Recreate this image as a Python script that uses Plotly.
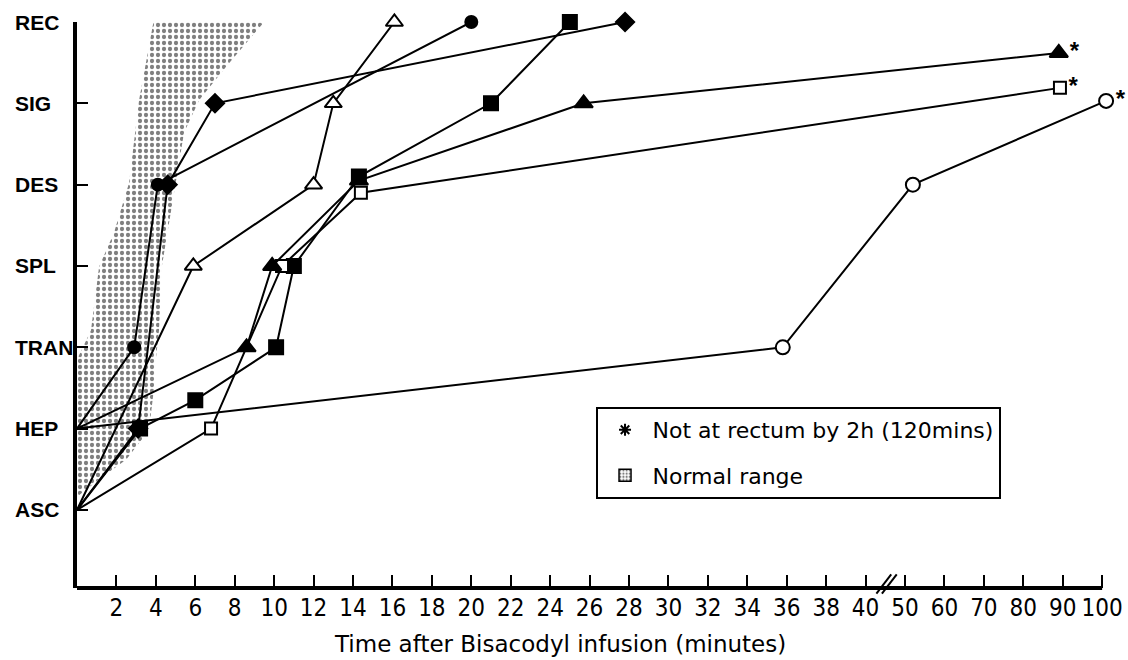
import plotly.graph_objects as go

# ---------------- data ----------------
levels = ["ASC", "HEP", "TRAN", "SPL", "DES", "SIG", "REC"]
x_tick_minutes = [2, 4, 6, 8, 10, 12, 14, 16, 18, 20, 22, 24, 26, 28, 30, 32, 34, 36, 38, 40,
                  50, 60, 70, 80, 90, 100]

# each subject: time (minutes) and colonic level (0=ASC ... 6=REC)
tri_open_t = [0, 5.9, 12.0, 13.0, 16.1]
tri_open_y = [0, 3, 4, 5, 6]

circ_fill_t = [0, 2.9, 4.1, 20.0]
circ_fill_y = [1, 2, 4, 6]

diam_t = [0, 3.1, 4.6, 7.0, 27.8]
diam_y = [0, 1, 4, 5, 6]

sq_fill_t = [0, 3.2, 6.0, 10.1, 11.0, 14.3, 21.0, 25.0]
sq_fill_y = [0, 1, 1.35, 2, 3, 4.1, 5, 6]

tri_fill_t = [0, 8.6, 9.9, 14.3, 25.7, 89.0]
tri_fill_y = [1, 2, 3, 4.05, 5, 5.62]

sq_open_t = [0, 6.8, 10.4, 14.4, 89.3]
sq_open_y = [0, 1, 3, 3.9, 5.19]

circ_open_t = [0, 35.8, 52.0, 101.0]
circ_open_y = [1, 2, 4, 5.03]

# normal range envelope
band_left_t = [3.9, 3.15, 2.64, 1.88, 1.12, 0.71, 0.36, 0.0, 0.0]
band_left_y = [6.03, 5.04, 4.02, 3.41, 2.99, 2.21, 2.03, 1.85, 0.18]
band_right_t = [0.1, 1.1, 2.5, 3.65, 3.9, 4.0, 4.16, 4.3, 5.0, 5.43, 6.2, 7.56, 9.6]
band_right_y = [0.18, 0.37, 0.62, 0.98, 1.48, 1.85, 2.21, 2.99, 4.02, 4.64, 5.04, 5.45, 6.03]


# broken time axis: 0-40 min at 1 unit/min, 50-100 min at 1 unit / 5 min
def u(t):
    return t if t <= 40 else 42 + (t - 50) / 5.0


def U(ts):
    return [u(t) for t in ts]


FONT_NUM = "Liberation Sans Narrow, DejaVu Sans Condensed, Liberation Sans, Arial Narrow, sans-serif"
FONT_TXT = "DejaVu Sans, Verdana, sans-serif"
FONT_LAB = "Liberation Sans, Arial, sans-serif"

fig = go.Figure()

# normal range band
fig.add_trace(go.Scatter(
    x=U(band_left_t + band_right_t), y=band_left_y + band_right_y,
    mode="lines", fill="toself", line=dict(width=0, color="black"),
    fillcolor="rgba(0,0,0,0)",
    fillpattern=dict(shape=".", fgcolor="black", bgcolor="white", size=6, solidity=0.4),
    showlegend=False, hoverinfo="skip",
))

series = [
    (tri_open_t, tri_open_y, "triangle-up", "white", 15, False),
    (circ_fill_t, circ_fill_y, "circle", "black", 12, False),
    (diam_t, diam_y, "diamond", "black", 14, False),
    (sq_fill_t, sq_fill_y, "square", "black", 14, False),
    (sq_open_t, sq_open_y, "square", "white", 12, True),
    (tri_fill_t, tri_fill_y, "triangle-up", "black", 16, True),
    (circ_open_t, circ_open_y, "circle", "white", 14, True),
]

for t, y, sym, fillc, size, star in series:
    n = len(t)
    sizes = [0] + [size] * (n - 1)
    text = [""] * n
    if star:
        text[-1] = "*"
    fig.add_trace(go.Scatter(
        x=U(t), y=y, mode="lines+markers+text",
        line=dict(color="black", width=2),
        marker=dict(symbol=sym, size=sizes, color=fillc, opacity=1,
                    line=dict(color="black", width=2)),
        text=text, textposition="middle right",
        textfont=dict(family=FONT_LAB, size=24, color="black", weight="bold"),
        showlegend=False, cliponaxis=False, hoverinfo="skip",
    ))

# legend-only entries
fig.add_trace(go.Scatter(
    x=[None], y=[None], mode="markers",
    marker=dict(symbol="asterisk-open", size=10, color="black", line=dict(color="black", width=2)),
    name="Not at rectum by 2h (120mins)", legendgroup="a", legendrank=1,
))
fig.add_trace(go.Bar(
    x=[None], y=[None],
    marker=dict(color="white", line=dict(color="black", width=1.5),
                pattern=dict(shape=".", fgcolor="black", bgcolor="white", size=4, solidity=0.4)),
    name="Normal range", legendgroup="b", legendrank=2,
))

# x-axis line (ends at 100 min) and break marks
fig.add_shape(type="line", xref="x", yref="paper", x0=0, x1=u(100), y0=0, y1=0,
              line=dict(color="black", width=4))
brk = (u(40) + u(50)) / 2.0
for off in (0.0, 0.28):
    fig.add_shape(type="line", xref="x", yref="paper",
                  x0=brk - 0.45 + off, x1=brk + 0.3 + off, y0=-0.01, y1=0.024,
                  line=dict(color="black", width=2))

# left-aligned level labels
for i, lab in enumerate(levels):
    fig.add_annotation(text=lab, xref="paper", x=0, xshift=-64, yref="y", y=i,
                       xanchor="left", yanchor="middle", showarrow=False,
                       font=dict(family=FONT_LAB, size=21, color="black", weight="bold"))

fig.add_annotation(text="Time after Bisacodyl infusion (minutes)", xref="paper", yref="paper",
                   x=0.4667, y=-0.099, showarrow=False, xanchor="center", yanchor="middle",
                   font=dict(family=FONT_TXT, size=23, color="black"))

fig.update_layout(
    width=1128, height=660,
    margin=dict(l=77, r=16, t=22, b=72),
    paper_bgcolor="white", plot_bgcolor="white",
    xaxis=dict(range=[0, 52.5], tickvals=U(x_tick_minutes), ticktext=[str(v) for v in x_tick_minutes],
               ticks="inside", ticklen=13, tickwidth=2, tickcolor="black",
               showline=False, showgrid=False, zeroline=False, automargin=False,
               ticklabeloverflow="allow",
               tickfont=dict(family=FONT_NUM, size=24, color="black"), ticklabelstandoff=3),
    yaxis=dict(range=[-0.96, 6], tickvals=list(range(len(levels))), showticklabels=False,
               ticks="inside", ticklen=11, tickwidth=2, tickcolor="black",
               showline=True, linewidth=4, linecolor="black", showgrid=False, zeroline=False,
               automargin=False),
    legend=dict(x=0.501, y=0.32, xanchor="left", yanchor="top",
                bordercolor="black", borderwidth=2, bgcolor="white",
                font=dict(family=FONT_TXT, size=22, color="black"),
                tracegroupgap=14, traceorder="grouped", itemwidth=45),
    showlegend=True,
)

fig.write_html("out.html", config={"displayModeBar": False},
               post_script="document.body.style.margin='0px';")
